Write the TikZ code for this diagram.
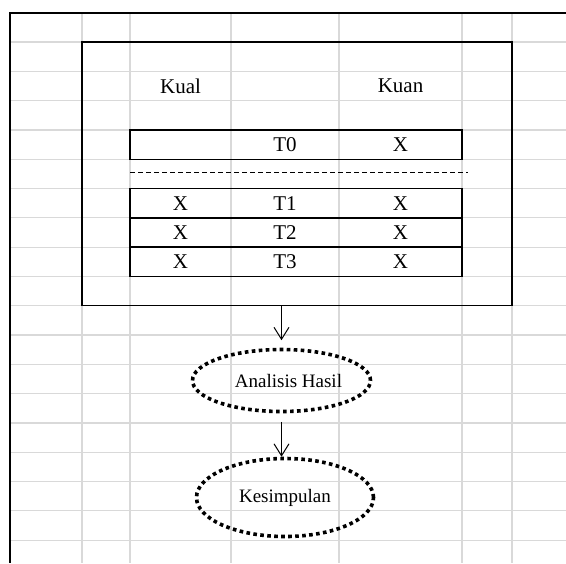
\documentclass[tikz,border=0pt]{standalone}
\usepackage{fontspec}
\setmainfont{Liberation Serif}
\usetikzlibrary{arrows.meta,shapes.geometric}

\begin{document}
\begin{tikzpicture}[x=0.5pt,y=-0.5pt,>={Straight Barb[length=6pt,width=7.5pt]},
                    font=\fontsize{10.5}{12}\selectfont]
  \tikzstyle{gridline}=[draw=black!15,line width=0.6pt]
  \tikzstyle{edge}=[draw=black,line width=0.7pt]
  \tikzstyle{rowbox}=[edge,minimum width=166pt,minimum height=14.65pt,inner sep=0pt]
  \tikzstyle{bubble}=[ellipse,draw,line width=1.8pt,dash pattern=on 1.8pt off 1.7pt,
                      inner sep=0pt,font=\fontsize{9.5}{11}\selectfont]

  \useasboundingbox (0,0) rectangle (566,563);

  % sheet grid
  \foreach \k in {1,...,18}
    \draw[gridline] (10,12.7+29.3*\k) -- (566,12.7+29.3*\k);
  \foreach \x in {82,130,231,339,462,512}
    \draw[gridline] (\x,12.7) -- (\x,563);
  \draw[line width=1pt] (566,12.7) -- (10,12.7) -- (10,563);

  % design box
  \node[edge,minimum width=215pt,minimum height=131.85pt,inner sep=0pt] (design) at (297,173.75) {};
  \node (kual) at (180.5,85.9) {Kual};
  \node (kuan) at (400.5,85.9) {Kuan};

  \node[rowbox] (row0) at (296,144.55) {};
  \node (t0) at (285,144.55) {T0};
  \node (kn0) at (400.5,144.55) {X};

  \draw[line width=0.5pt,dash pattern=on 2.5pt off 1.5pt] (130,172.5) -- (468,172.5);

  \foreach \i/\y in {1/203.15,2/232.45,3/261.75} {
    \node[rowbox] (row\i) at (296,\y) {};
    \node (kl\i) at (180.5,\y) {X};
    \node (t\i) at (285,\y) {T\i};
    \node (kn\i) at (400.5,\y) {X};
  }

  % steps after the design
  \node[bubble,minimum width=89pt,minimum height=31pt] (hasil) at (281.5,380.5) {\hspace{7pt}Analisis Hasil};
  \node[bubble,minimum width=88.5pt,minimum height=39pt] (simpul) at (285,497.5) {Kesimpulan\hspace{5pt}};

  \draw[->,line width=0.5pt,shorten >=3.75pt] (design.south -| hasil) -- (hasil.north);
  \draw[->,line width=0.5pt,shorten <=4.25pt] (hasil.south) -- (hasil.south |- simpul.north);
\end{tikzpicture}
\end{document}
